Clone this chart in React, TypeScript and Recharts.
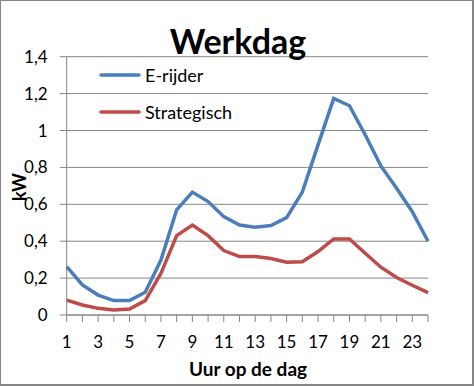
import React from 'react';
import { LineChart, Line, XAxis, YAxis, CartesianGrid, Legend } from 'recharts';

const hours = [1, 2, 3, 4, 5, 6, 7, 8, 9, 10, 11, 12, 13, 14, 15, 16, 17, 18, 19, 20, 21, 22, 23, 24];
const eRijder = [0.262, 0.163, 0.108, 0.078, 0.078, 0.123, 0.298, 0.57, 0.666, 0.615, 0.533, 0.488, 0.476, 0.485, 0.528, 0.666, 0.922, 1.174, 1.134, 0.977, 0.808, 0.687, 0.56, 0.4];
const strategisch = [0.081, 0.054, 0.036, 0.027, 0.032, 0.078, 0.226, 0.43, 0.487, 0.43, 0.349, 0.317, 0.317, 0.306, 0.286, 0.289, 0.344, 0.412, 0.412, 0.335, 0.259, 0.203, 0.161, 0.121];
const yTicks = [0, 0.2, 0.4, 0.6, 0.8, 1, 1.2, 1.4];
const xLabelled = [1, 3, 5, 7, 9, 11, 13, 15, 17, 19, 21, 23];

const data = hours.map((h, i) => ({ hour: h, eRijder: eRijder[i], strategisch: strategisch[i] }));

const FONT = 'Lato, "Open Sans", sans-serif';
const GRAY = '#868686';

const fmtY = (v: number) => (v === 0 ? '0' : v === 1 ? '1' : v.toFixed(1).replace('.', ','));
const fmtX = (v: number) => (xLabelled.includes(v) ? String(v) : '');

const LegendContent = (props: any) => {
  const payload = props.payload || [];
  return (
    <div style={{ position: 'relative', width: 200, height: 74, fontFamily: FONT, fontSize: 18, color: '#000', textAlign: 'left' }}>
      {payload.map((p: any, i: number) => (
        <div key={i} style={{ position: 'absolute', left: 0, top: i * 37, width: 200, height: 37 }}>
          <svg width={42} height={6} style={{ position: 'absolute', left: 0, top: 15 }}>
            <line x1={2} y1={3} x2={40} y2={3} stroke={p.color} strokeWidth={3.5} strokeLinecap="round" />
          </svg>
          <span style={{ position: 'absolute', left: 46, top: 6, lineHeight: '24px', whiteSpace: 'nowrap' }}>{p.value}</span>
        </div>
      ))}
    </div>
  );
};

export default function App() {
  return (
    <div style={{ position: 'absolute', left: 0, top: 0, width: 474, height: 386, background: '#fff', boxSizing: 'border-box', borderLeft: `1px solid ${GRAY}`, borderTop: `1px solid ${GRAY}`, borderRight: `2px solid ${GRAY}`, borderBottom: `2px solid ${GRAY}` }}>
      <div style={{ position: 'absolute', left: -1, top: -1, width: 474, height: 386 }}>
        <LineChart width={474} height={386} data={data} margin={{ top: 56.7, right: 46, bottom: 41, left: 6.7 }}>
          <CartesianGrid vertical={false} stroke={GRAY} strokeWidth={1} />
          <XAxis
            dataKey="hour"
            type="number"
            domain={[1, 24]}
            ticks={hours}
            interval={0}
            tickFormatter={fmtX}
            height={30}
            tickSize={7}
            tickMargin={14}
            axisLine={{ stroke: GRAY }}
            tickLine={{ stroke: GRAY }}
            tick={{ fill: '#000', fontSize: 17, fontFamily: FONT }}
          />
          <YAxis
            type="number"
            domain={[0, 1.4]}
            ticks={yTicks}
            interval={0}
            tickFormatter={fmtY}
            width={60}
            tickSize={7}
            tickMargin={12}
            axisLine={{ stroke: GRAY }}
            tickLine={{ stroke: GRAY }}
            tick={{ fill: '#000', fontSize: 17, fontFamily: FONT }}
          />
          <Legend
            layout="vertical"
            align="center"
            verticalAlign="middle"
            content={LegendContent}
            wrapperStyle={{ position: 'absolute', left: 99, top: 57, width: 200, height: 74 }}
          />
          <Line type="linear" dataKey="eRijder" name="E-rijder" stroke="#4A7EBB" strokeWidth={3.5} dot={false} isAnimationActive={false} />
          <Line type="linear" dataKey="strategisch" name="Strategisch" stroke="#BE4B48" strokeWidth={3.5} dot={false} isAnimationActive={false} />
        </LineChart>
      </div>
      <div style={{ position: 'absolute', left: 0, top: 20, width: 474, textAlign: 'center', fontFamily: FONT, fontWeight: 'bold', fontSize: 34, lineHeight: '40px', color: '#000' }}>
        Werkdag
      </div>
      <div style={{ position: 'absolute', left: 127, top: 357, width: 240, textAlign: 'center', fontFamily: FONT, fontWeight: 'bold', fontSize: 19, lineHeight: '22px', color: '#000' }}>
        Uur op de dag
      </div>
      <div style={{ position: 'absolute', left: 18, top: 186, width: 0, height: 0 }}>
        <div style={{ position: 'absolute', left: -30, top: -11, width: 60, textAlign: 'center', transform: 'rotate(-90deg)', fontFamily: FONT, fontWeight: 'bold', fontSize: 18, lineHeight: '22px', color: '#000' }}>
          kW
        </div>
      </div>
    </div>
  );
}
